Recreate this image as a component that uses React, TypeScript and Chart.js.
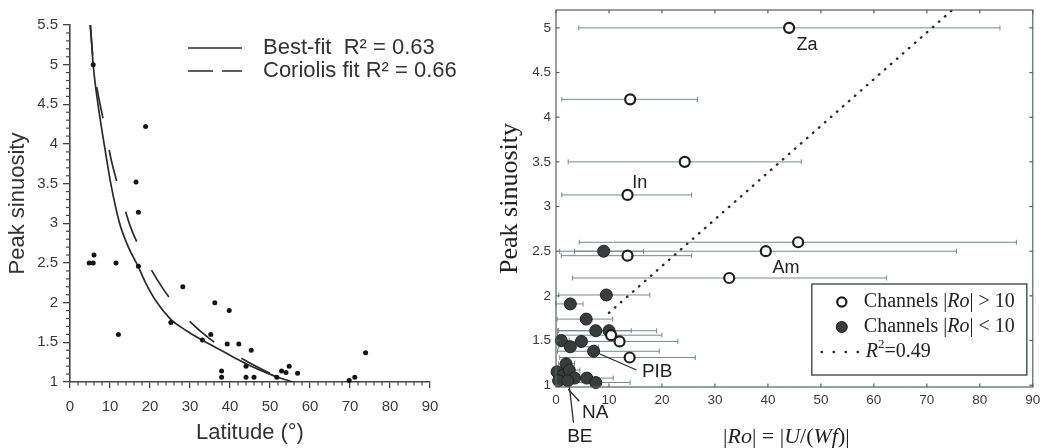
import React, { useEffect, useRef } from "react";
import { Chart, registerables } from "chart.js";
Chart.register(...registerables);

const W = 1040;
const H = 448;
const SANS = "'Liberation Sans', Arial, sans-serif";
const SERIF = "'Liberation Serif', 'Times New Roman', serif";

// ---------------- Left panel data ----------------
const latitudeDeg = [5.8, 4.8, 5.8, 6.0, 11.5, 12.1, 16.5, 17.1, 18.9, 17.1, 25.2, 28.2, 33.1, 35.2, 36.2, 37.9, 37.9, 39.3, 39.8, 42.2, 44.0, 44.0, 45.3, 46.0, 51.7, 52.9, 54.0, 54.8, 56.9, 69.8, 71.2, 73.9];
const peakSinuosityLat = [5.0, 2.5, 2.5, 2.6, 2.5, 1.6, 3.52, 3.14, 4.22, 2.46, 1.75, 2.2, 1.53, 1.6, 2.0, 1.14, 1.06, 1.48, 1.9, 1.48, 1.2, 1.06, 1.4, 1.06, 1.06, 1.14, 1.12, 1.2, 1.11, 1.02, 1.06, 1.37];
const bestFitLat = [5.1, 5.8, 7.0, 8.7, 10.2, 12.4, 14.6, 17.0, 19.0, 21.5, 25.0, 29.0, 33.0, 37.0, 41.0, 44.0, 48.0, 52.0, 55.8];
const bestFitSin = [5.52, 5.0, 4.5, 3.95, 3.5, 3.0, 2.7, 2.46, 2.24, 2.02, 1.8, 1.65, 1.53, 1.42, 1.31, 1.23, 1.14, 1.06, 1.0];
const coriolisLat = [5.0, 5.9, 6.7, 8.75, 10.4, 12.5, 15.25, 18.75, 23.2, 28.3, 34.8, 42.1, 49.2, 55.8];
const coriolisSin = [5.52, 5.0, 4.72, 4.2, 3.78, 3.39, 2.94, 2.56, 2.18, 1.85, 1.55, 1.32, 1.13, 1.0];
const latitudeTicks = [0, 10, 20, 30, 40, 50, 60, 70, 80, 90];
const sinuosityTicksLeft = [1, 1.5, 2, 2.5, 3, 3.5, 4, 4.5, 5, 5.5];
const leftLegendLabels = ["Best-fit  R\u00b2 = 0.63", "Coriolis fit R\u00b2 = 0.66"];

// ---------------- Right panel data ----------------
const openRo = [44.0, 14.0, 24.3, 13.5, 45.7, 39.6, 13.5, 32.7, 10.4, 12.0, 13.9];
const openSin = [5.0, 4.2, 3.5, 3.13, 2.6, 2.5, 2.45, 2.2, 1.56, 1.49, 1.31];
const openLo = [4.3, 1.1, 2.3, 1.1, 4.4, 0.7, 1.0, 3.1, 0.3, 0.5, 0.7];
const openHi = [83.8, 26.7, 46.3, 25.6, 86.9, 75.6, 25.6, 62.4, 20.0, 23.0, 26.3];
const filledRo = [9.0, 9.5, 2.7, 5.7, 7.5, 10.0, 1.0, 2.7, 4.8, 7.1, 1.9, 0.2, 1.3, 2.5, 0.5, 3.5, 5.8, 7.5, 2.2];
const filledSin = [2.5, 2.01, 1.91, 1.74, 1.61, 1.61, 1.5, 1.43, 1.49, 1.38, 1.24, 1.15, 1.11, 1.17, 1.05, 1.08, 1.08, 1.03, 1.05];
const filledLo = [3.5, 0.5, 0.0, 0.2, 0.5, 0.3, 0.0, 0.5, 0.4, 0.3, 0.5, 0.0, 0.0, 0.5, 0.0, 0.5, 0.3, 0.5, 0.3];
const filledHi = [16.5, 17.7, 5.1, 10.7, 14.2, 19.0, 2.5, 8.0, 12.0, 19.5, 3.5, 1.0, 2.5, 4.5, 1.5, 6.0, 10.8, 14.0, 4.0];
const fitRo = [10.0, 74.8];
const fitSin = [1.81, 5.2];
const roTicks = [0, 10, 20, 30, 40, 50, 60, 70, 80, 90];
const sinuosityTicksRight = [1, 1.5, 2, 2.5, 3, 3.5, 4, 4.5, 5];
const annotationText = ["Za", "In", "Am", "PIB", "NA", "BE"];
const annotationRo = [47.4, 15.8, 43.4, 19.1, 7.4, 4.5];
const annotationSin = [4.81, 3.26, 2.31, 1.15, 0.69, 0.42];
const leaderFromRo = [7.1, 2.3, 2.5];
const leaderFromSin = [1.38, 0.955, 1.0];
const leaderToRo = [15.2, 4.4, 3.3];
const leaderToSin = [1.17, 0.82, 0.58];

function zeroPad(s: any) {
  s.paddingTop = 0;
  s.paddingBottom = 0;
  s.paddingLeft = 0;
  s.paddingRight = 0;
}

const plainLabel = (v: any) => String(Math.round(Number(v) * 100) / 100);

function line(ctx: any, x1: number, y1: number, x2: number, y2: number) {
  ctx.beginPath();
  ctx.moveTo(x1, y1);
  ctx.lineTo(x2, y2);
  ctx.stroke();
}

const leftDecor = {
  id: "leftDecor",
  afterDraw(chart: any) {
    const { ctx, chartArea: a, scales } = chart;
    const x = scales.x;
    const y = scales.y;
    ctx.save();
    ctx.strokeStyle = "#444";
    ctx.lineWidth = 1.2;
    for (let v = 0; v <= 90; v += 2) {
      if (v % 10 === 0) continue;
      const px = x.getPixelForValue(v);
      line(ctx, px, a.bottom, px, a.bottom + 3.5);
    }
    for (let k = 10; k <= 55; k++) {
      if (k % 5 === 0) continue;
      const py = y.getPixelForValue(k / 10);
      line(ctx, a.left - 4, py, a.left, py);
    }
    // legend
    const rows = [chart.data.datasets[1], chart.data.datasets[2]];
    rows.forEach((ds: any, i: number) => {
      const yy = a.top + 23 + i * 23;
      ctx.strokeStyle = "#2b2b2b";
      ctx.lineWidth = 1.7;
      ctx.setLineDash(ds.borderDash ? [25, 9] : []);
      line(ctx, a.left + 118, yy, a.left + 172, yy);
      ctx.setLineDash([]);
      ctx.fillStyle = "#333";
      ctx.font = `22px ${SANS}`;
      ctx.textBaseline = "middle";
      ctx.textAlign = "left";
      ctx.fillText(ds.label, a.left + 193, yy);
    });
    ctx.restore();
  },
};

function leftConfig(): any {
  const pts = latitudeDeg.map((x, i) => ({ x, y: peakSinuosityLat[i] }));
  const best = bestFitLat.map((x, i) => ({ x, y: bestFitSin[i] }));
  const cor = coriolisLat.map((x, i) => ({ x, y: coriolisSin[i] }));
  return {
    type: "scatter",
    data: {
      datasets: [
        { label: "Channels", data: pts, pointRadius: 2.5, pointBackgroundColor: "#151515", pointBorderWidth: 0, showLine: false, clip: false },
        { type: "line", label: leftLegendLabels[0], data: best, borderColor: "#2b2b2b", borderWidth: 1.7, pointRadius: 0, cubicInterpolationMode: "monotone", fill: false },
        { type: "line", label: leftLegendLabels[1], data: cor, borderColor: "#2b2b2b", borderWidth: 1.7, borderDash: [32, 32], borderDashOffset: 0, pointRadius: 0, cubicInterpolationMode: "monotone", fill: false },
      ],
    },
    options: {
      responsive: false,
      animation: false,
      devicePixelRatio: 1,
      events: [],
      layout: { padding: { left: 0, right: 70, top: 25, bottom: 0 } },
      plugins: { legend: { display: false }, tooltip: { enabled: false } },
      scales: {
        x: {
          type: "linear",
          min: 0,
          max: 90,
          afterBuildTicks: (s: any) => { s.ticks = latitudeTicks.map((v) => ({ value: v })); },
          afterFit: (s: any) => { s.height = 66; zeroPad(s); },
          ticks: { font: { family: SANS, size: 15 }, color: "#3a3a3a", padding: 10, maxRotation: 0, autoSkip: false, callback: plainLabel },
          grid: { display: true, drawOnChartArea: false, drawTicks: true, tickLength: 6, color: "#444", lineWidth: 1.3 },
          border: { display: true, color: "#444", width: 1.6 },
          title: { display: true, text: "Latitude (\u00b0)", font: { family: SANS, size: 22 }, color: "#333", padding: { top: 0, bottom: 2 } },
        },
        y: {
          type: "linear",
          min: 1,
          max: 5.5,
          afterBuildTicks: (s: any) => { s.ticks = sinuosityTicksLeft.map((v) => ({ value: v })); },
          afterFit: (s: any) => { s.width = 70; zeroPad(s); },
          ticks: { font: { family: SANS, size: 15 }, color: "#3a3a3a", padding: 5, autoSkip: false, callback: plainLabel },
          grid: { display: true, drawOnChartArea: false, drawTicks: true, tickLength: 7, color: "#444", lineWidth: 1.3 },
          border: { display: true, color: "#444", width: 1.6 },
          title: { display: true, text: "Peak sinuosity", font: { family: SANS, size: 22 }, color: "#333", padding: { top: 5, bottom: 0 } },
        },
      },
    },
    plugins: [leftDecor],
  };
}

function drawRich(ctx: any, segs: [string, boolean][], x: number, y: number, size: number, align: string) {
  const widths = segs.map(([t, it]) => {
    ctx.font = `${it ? "italic " : ""}${size}px ${SERIF}`;
    return ctx.measureText(t).width;
  });
  const total = widths.reduce((p, q) => p + q, 0);
  let cx = align === "center" ? x - total / 2 : x;
  ctx.textAlign = "left";
  segs.forEach(([t, it], i) => {
    ctx.font = `${it ? "italic " : ""}${size}px ${SERIF}`;
    ctx.fillText(t, cx, y);
    cx += widths[i];
  });
}

const rightDecor = {
  id: "rightDecor",
  afterDraw(chart: any) {
    const { ctx, chartArea: a, scales } = chart;
    const x = scales.x;
    const y = scales.y;
    ctx.save();
    // frame
    ctx.strokeStyle = "#56625f";
    ctx.lineWidth = 1.2;
    ctx.strokeRect(a.left, a.top, a.right - a.left, a.bottom - a.top);
    const tl = 3.5;
    roTicks.forEach((v) => {
      const px = x.getPixelForValue(v);
      line(ctx, px, a.bottom, px, a.bottom - tl);
      line(ctx, px, a.top, px, a.top + tl);
    });
    sinuosityTicksRight.forEach((v) => {
      const py = y.getPixelForValue(v);
      line(ctx, a.left, py, a.left + tl, py);
      line(ctx, a.right, py, a.right - tl, py);
    });
    // annotations
    ctx.fillStyle = "#222";
    ctx.textBaseline = "middle";
    ctx.textAlign = "center";
    annotationText.forEach((t, i) => {
      ctx.font = `${i < 3 ? 18 : 19}px ${SANS}`;
      ctx.fillText(t, x.getPixelForValue(annotationRo[i]), y.getPixelForValue(annotationSin[i]));
    });
    // legend
    const bx = a.right - 221;
    const by = a.bottom - 103;
    const bw = 215;
    const bh = 91;
    ctx.fillStyle = "#fff";
    ctx.fillRect(bx, by, bw, bh);
    ctx.strokeStyle = "#3f4d4b";
    ctx.lineWidth = 1.4;
    ctx.strokeRect(bx, by, bw, bh);
    const r1 = by + 18;
    const r2 = by + 43;
    const r3 = by + 68;
    ctx.beginPath();
    ctx.arc(bx + 30, r1, 4.6, 0, Math.PI * 2);
    ctx.fillStyle = "#fff";
    ctx.fill();
    ctx.lineWidth = 2.2;
    ctx.strokeStyle = "#1e1e1e";
    ctx.stroke();
    ctx.beginPath();
    ctx.arc(bx + 30, r2, 5.5, 0, Math.PI * 2);
    ctx.fillStyle = "#3a3c3c";
    ctx.fill();
    ctx.lineWidth = 1;
    ctx.stroke();
    ctx.fillStyle = "#222";
    for (let k = 0; k < 4; k++) {
      ctx.beginPath();
      ctx.arc(bx + 10 + k * 12, r3, 1.3, 0, Math.PI * 2);
      ctx.fill();
    }
    ctx.textBaseline = "middle";
    drawRich(ctx, [["Channels |", false], ["Ro", true], ["| > 10", false]], bx + 52, r1, 20, "left");
    drawRich(ctx, [["Channels |", false], ["Ro", true], ["| < 10", false]], bx + 52, r2, 20, "left");
    ctx.font = `italic 20px ${SERIF}`;
    ctx.textAlign = "left";
    let cx = bx + 54;
    ctx.fillText("R", cx, r3);
    cx += ctx.measureText("R").width;
    ctx.font = `13px ${SERIF}`;
    ctx.fillText("2", cx, r3 - 7);
    cx += ctx.measureText("2").width;
    ctx.font = `20px ${SERIF}`;
    ctx.fillText("=0.49", cx, r3);
    // x title
    drawRich(
      ctx,
      [["|", false], ["Ro", true], ["| = |", false], ["U", true], ["/(", false], ["Wf", true], [")|", false]],
      (a.left + a.right) / 2 - 8,
      437,
      22,
      "center"
    );
    ctx.restore();
  },
};

function errBar(lo: number, hi: number, yv: number): any {
  return {
    type: "line",
    data: [{ x: lo, y: yv }, { x: hi, y: yv }],
    borderColor: "#7a888c",
    borderWidth: 1,
    pointStyle: "line",
    rotation: 90,
    pointRadius: 2.5,
    pointBorderColor: "#7a888c",
    pointBorderWidth: 1,
    clip: false,
  };
}

function rightConfig(): any {
  const open = openRo.map((x, i) => ({ x, y: openSin[i] }));
  const filled = filledRo.map((x, i) => ({ x, y: filledSin[i] }));
  const fit = fitRo.map((x, i) => ({ x, y: fitSin[i] }));
  const leaders = leaderFromRo.map((x0, i) => ({
    type: "line",
    data: [{ x: x0, y: leaderFromSin[i] }, { x: leaderToRo[i], y: leaderToSin[i] }],
    borderColor: "#2a2a2a",
    borderWidth: 1.3,
    pointRadius: 0,
    clip: false,
  }));
  const bars = [
    ...openRo.map((_, i) => errBar(openLo[i], openHi[i], openSin[i])),
    ...filledRo.map((_, i) => errBar(filledLo[i], filledHi[i], filledSin[i])),
  ];
  return {
    type: "scatter",
    data: {
      datasets: [
        { label: "Channels |Ro| > 10", data: open, pointRadius: 5, pointBackgroundColor: "#fff", pointBorderColor: "#1e1e1e", pointBorderWidth: 2.2, showLine: false, clip: false },
        { label: "Channels |Ro| < 10", data: filled, pointRadius: 6, pointBackgroundColor: "#3a3c3c", pointBorderColor: "#1f1f1f", pointBorderWidth: 1, showLine: false, clip: false },
        { type: "line", label: "R2=0.49", data: fit, borderColor: "#2a2a2a", borderWidth: 2.4, borderDash: [0.5, 7.5], borderCapStyle: "round", pointRadius: 0 },
        ...leaders,
        ...bars,
      ],
    },
    options: {
      responsive: false,
      animation: false,
      devicePixelRatio: 1,
      events: [],
      layout: { padding: { left: 0, right: 7, top: 10, bottom: 0 } },
      plugins: { legend: { display: false }, tooltip: { enabled: false } },
      scales: {
        x: {
          type: "linear",
          min: 0,
          max: 90,
          afterBuildTicks: (s: any) => { s.ticks = roTicks.map((v) => ({ value: v })); },
          afterFit: (s: any) => { s.height = 61; zeroPad(s); },
          ticks: { font: { family: SANS, size: 13.5 }, color: "#3a3a3a", padding: 5, maxRotation: 0, autoSkip: false, callback: plainLabel },
          grid: { display: false, drawTicks: false },
          border: { display: false },
        },
        y: {
          type: "linear",
          min: 0.98,
          max: 5.2,
          afterBuildTicks: (s: any) => { s.ticks = sinuosityTicksRight.map((v) => ({ value: v })); },
          afterFit: (s: any) => { s.width = 56; zeroPad(s); },
          ticks: { font: { family: SANS, size: 13.5 }, color: "#3a3a3a", padding: 5, autoSkip: false, callback: plainLabel },
          grid: { display: false, drawTicks: false },
          border: { display: false },
          title: { display: true, text: "Peak sinuosity", font: { family: SERIF, size: 26, lineHeight: 0.8 }, color: "#222", padding: 0 },
        },
      },
    },
    plugins: [rightDecor],
  };
}

function ChartBox({ make, left, width }: { make: () => any; left: number; width: number }) {
  const ref = useRef<HTMLCanvasElement | null>(null);
  useEffect(() => {
    const chart = new Chart(ref.current as HTMLCanvasElement, make());
    return () => chart.destroy();
  }, []);
  return (
    <canvas
      ref={ref}
      width={width}
      height={H}
      style={{ position: "absolute", left, top: 0, width, height: H }}
    />
  );
}

export default function App() {
  return (
    <div style={{ position: "fixed", left: 0, top: 0, width: W, height: H, background: "#fff", overflow: "hidden" }}>
      <ChartBox make={leftConfig} left={0} width={500} />
      <ChartBox make={rightConfig} left={500} width={540} />
    </div>
  );
}
